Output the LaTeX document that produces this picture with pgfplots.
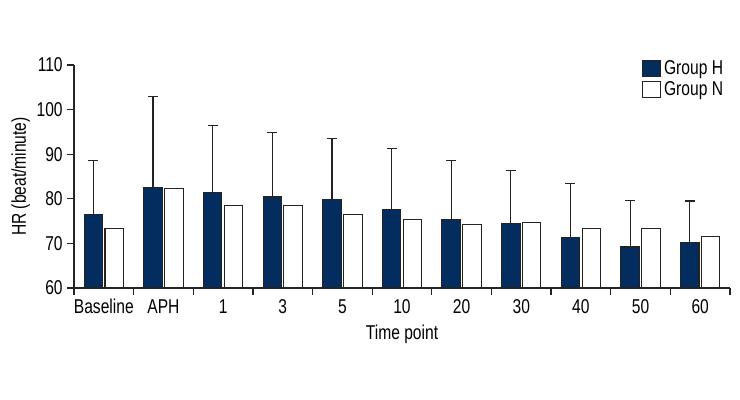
\documentclass[border=0pt]{standalone}
\usepackage{fontspec}
\setmainfont[FakeStretch=0.78]{Liberation Sans}
\usepackage{pgfplots}
\usepackage{pgfplotstable}
\pgfplotsset{compat=1.18}
\definecolor{navy}{RGB}{3,45,94}
\definecolor{edge}{RGB}{35,35,35}

% HR by time point; Herr = upper error (SD) for Group H
\pgfplotstableread{
x  H     N     Herr
0  76.4  73.4  12.1
1  82.5  82.3  20.4
2  81.5  78.6  15.0
3  80.4  78.6  14.4
4  79.8  76.4  13.7
5  77.5  75.4  13.8
6  75.4  74.3  13.2
7  74.5  74.7  11.8
8  71.4  73.4  12.1
9  69.2  73.4  10.5
10 70.3  71.6  9.2
}\hrdata

\begin{document}
\begin{tikzpicture}
\begin{axis}[
    name=ax,
    scale only axis, width=492pt, height=167.25pt,
    xmin=-0.5, xmax=10.5, ymin=60, ymax=110,
    axis x line=bottom, axis y line=left,
    axis line style={-, line width=0.9pt, edge},
    tick align=outside,
    xtick={0,...,10},
    xticklabels={Baseline,APH,1,3,5,10,20,30,40,50,60},
    major x tick style={draw=none},
    minor xtick={-0.5,0.5,...,10.5},
    minor tick length=5pt, major tick length=5pt,
    every tick/.style={edge, line width=0.9pt},
    ytick={60,70,...,110},
    font=\fontsize{15}{17}\selectfont,
    /pgf/number format/assume math mode=true,
    xlabel={Time point}, ylabel={HR (beat/minute)},
    xlabel style={yshift=-1pt},
    ylabel style={yshift=-2pt},
    ybar, bar width=0.31,
    legend style={at={(0.866,1.035)}, anchor=north west, draw=none, fill=none,
        font=\fontsize{15}{17}\selectfont, row sep=0pt, inner sep=0pt},
    legend cell align=left,
    legend image code/.code={\draw[#1] (0pt,-6pt) rectangle (13.5pt,6pt);},
]
\addplot[fill=navy, draw=edge, line width=0.8pt, bar shift=-0.175,
    error bars/.cd, y dir=plus, y explicit,
    error bar style={edge, line width=0.9pt},
    error mark options={rotate=90, edge, line width=0.9pt, mark size=3.75pt}]
    table[x=x, y=H, y error=Herr] {\hrdata};
\addplot[fill=white, draw=edge, line width=0.8pt, bar shift=0.175]
    table[x=x, y=N] {\hrdata};
\legend{Group H, Group N}
\end{axis}
\pgfresetboundingbox
\path[use as bounding box] ([xshift=-55.5pt,yshift=-84pt]ax.south west) rectangle ++(555pt,300pt);
\end{tikzpicture}
\end{document}
